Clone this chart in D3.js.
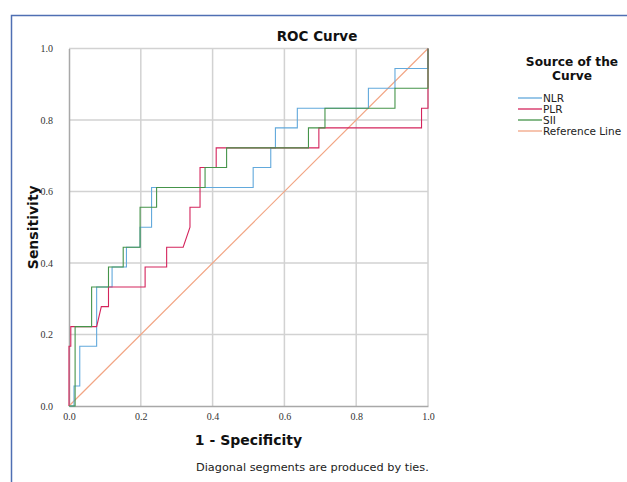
<!DOCTYPE html>
<html>
<head>
<meta charset="utf-8">
<script src="https://cdn.jsdelivr.net/npm/d3@7/dist/d3.min.js"></script>
<style>
  body { margin: 0; background: #fff; }
  svg { display: block; }
</style>
</head>
<body>
<div id="chart"></div>
<script>
// ROC curve data (1 - specificity, sensitivity)
var nlrFpr = [0, 0.014, 0.014, 0.03, 0.03, 0.077, 0.077, 0.12, 0.12, 0.16, 0.16, 0.198, 0.198, 0.23, 0.23, 0.513, 0.513, 0.562, 0.562, 0.575, 0.575, 0.636, 0.636, 0.834, 0.834, 0.908, 0.908, 1, 1];
var nlrTpr = [0, 0, 0.056, 0.056, 0.167, 0.167, 0.333, 0.333, 0.389, 0.389, 0.444, 0.444, 0.5, 0.5, 0.611, 0.611, 0.667, 0.667, 0.722, 0.722, 0.778, 0.778, 0.833, 0.833, 0.889, 0.889, 0.944, 0.944, 1];

var plrFpr = [0, 0, 0.005, 0.005, 0.077, 0.09, 0.11, 0.11, 0.212, 0.212, 0.272, 0.272, 0.318, 0.337, 0.337, 0.365, 0.365, 0.41, 0.41, 0.696, 0.696, 0.982, 0.982, 1, 1];
var plrTpr = [0, 0.167, 0.167, 0.222, 0.222, 0.278, 0.278, 0.333, 0.333, 0.389, 0.389, 0.444, 0.444, 0.5, 0.556, 0.556, 0.667, 0.667, 0.722, 0.722, 0.778, 0.778, 0.833, 0.833, 1];

var siiFpr = [0, 0.017, 0.017, 0.063, 0.063, 0.11, 0.11, 0.151, 0.151, 0.198, 0.198, 0.244, 0.244, 0.379, 0.379, 0.439, 0.439, 0.667, 0.667, 0.713, 0.713, 0.908, 0.908, 1, 1];
var siiTpr = [0, 0, 0.222, 0.222, 0.333, 0.333, 0.389, 0.389, 0.444, 0.444, 0.556, 0.556, 0.611, 0.611, 0.667, 0.667, 0.722, 0.722, 0.778, 0.778, 0.833, 0.833, 0.889, 0.889, 1];

var refFpr = [0, 1];
var refTpr = [0, 1];

var seriesNames = ['NLR', 'PLR', 'SII', 'Reference Line'];
var seriesColors = ['#62a9dc', '#d4245c', '#45944a', '#f2a584'];
var ticks = [0, 0.2, 0.4, 0.6, 0.8, 1.0];

var width = 627, height = 482;
var plot = { left: 69, right: 428, top: 48.5, bottom: 406 };

var svg = d3.select('#chart').append('svg')
  .attr('width', width)
  .attr('height', height);

// outer frame (only top and left edges show)
svg.append('path')
  .attr('d', 'M11.5,' + height + 'V15.5H' + width)
  .attr('fill', 'none')
  .attr('stroke', '#4f6fb3')
  .attr('stroke-width', 1.5);

var x = d3.scaleLinear().domain([0, 1]).range([plot.left, plot.right]);
var y = d3.scaleLinear().domain([0, 1]).range([plot.bottom, plot.top]);

// grid
var grid = svg.append('g').attr('stroke', '#d2d2d2').attr('stroke-width', 1.5);
grid.selectAll('line.v').data(ticks.slice(1)).enter().append('line')
  .attr('x1', function (d) { return x(d); }).attr('x2', function (d) { return x(d); })
  .attr('y1', y(0)).attr('y2', y(1));
grid.selectAll('line.h').data(ticks.slice(1)).enter().append('line')
  .attr('y1', function (d) { return y(d); }).attr('y2', function (d) { return y(d); })
  .attr('x1', x(0)).attr('x2', x(1));

// axes
var xAxis = svg.append('g')
  .attr('transform', 'translate(0,' + plot.bottom + ')')
  .call(d3.axisBottom(x).tickValues(ticks).tickFormat(d3.format('.1f')).tickSize(0).tickPadding(7));
var yAxis = svg.append('g')
  .attr('transform', 'translate(' + plot.left + ',0)')
  .call(d3.axisLeft(y).tickValues(ticks).tickFormat(d3.format('.1f')).tickSize(0).tickPadding(16));

[xAxis, yAxis].forEach(function (a) {
  a.select('.domain').attr('stroke', '#a8a8a8').attr('stroke-width', 1.5);
  a.selectAll('text')
    .attr('font-family', 'Liberation Serif, serif')
    .attr('font-size', 10)
    .attr('fill', '#333');
});

// curves
var line = d3.line()
  .x(function (d) { return x(d[0]); })
  .y(function (d) { return y(d[1]); });

var curves = [
  d3.zip(nlrFpr, nlrTpr),
  d3.zip(plrFpr, plrTpr),
  d3.zip(siiFpr, siiTpr),
  d3.zip(refFpr, refTpr)
];

// draw reference first so curves sit on top
[3, 0, 1, 2].forEach(function (i) {
  svg.append('path')
    .datum(curves[i])
    .attr('d', line)
    .attr('fill', 'none')
    .attr('stroke', seriesColors[i])
    .attr('stroke-width', i == 3 ? 1.2 : 1.1);
});

// titles
svg.append('text')
  .attr('x', 317).attr('y', 41)
  .attr('text-anchor', 'middle')
  .attr('font-family', 'DejaVu Sans, sans-serif')
  .attr('font-weight', 'bold').attr('font-size', 13.5)
  .attr('fill', '#111')
  .text('ROC Curve');

svg.append('text')
  .attr('x', (plot.left + plot.right) / 2).attr('y', 445)
  .attr('text-anchor', 'middle')
  .attr('font-family', 'DejaVu Sans, sans-serif')
  .attr('font-weight', 'bold').attr('font-size', 14)
  .attr('fill', '#111')
  .text('1 - Specificity');

svg.append('text')
  .attr('transform', 'translate(38,' + (plot.top + plot.bottom) / 2 + ') rotate(-90)')
  .attr('text-anchor', 'middle')
  .attr('font-family', 'DejaVu Sans, sans-serif')
  .attr('font-weight', 'bold').attr('font-size', 14)
  .attr('fill', '#111')
  .text('Sensitivity');

svg.append('text')
  .attr('x', 196).attr('y', 471)
  .attr('font-family', 'DejaVu Sans, sans-serif')
  .attr('font-size', 11.3)
  .attr('fill', '#222')
  .text('Diagonal segments are produced by ties.');

// legend title, two lines
var legend = svg.append('g');
legend.selectAll('text.title').data(['Source of the', 'Curve']).enter().append('text')
  .attr('x', 572)
  .attr('y', function (d, i) { return 66 + i * 14; })
  .attr('text-anchor', 'middle')
  .attr('font-family', 'DejaVu Sans, sans-serif')
  .attr('font-weight', 'bold').attr('font-size', 12.2)
  .attr('fill', '#111')
  .text(function (d) { return d; });

var items = legend.selectAll('g.item').data(seriesNames).enter().append('g')
  .attr('transform', function (d, i) { return 'translate(518,' + (98 + i * 11) + ')'; });
items.append('line')
  .attr('x1', 0).attr('x2', 24)
  .attr('stroke', function (d, i) { return seriesColors[i]; })
  .attr('stroke-width', 1.3);
items.append('text')
  .attr('x', 25).attr('dy', '0.35em')
  .attr('font-family', 'DejaVu Sans, sans-serif')
  .attr('font-size', 10.5)
  .attr('fill', '#222')
  .text(function (d) { return d; });
</script>
</body>
</html>
